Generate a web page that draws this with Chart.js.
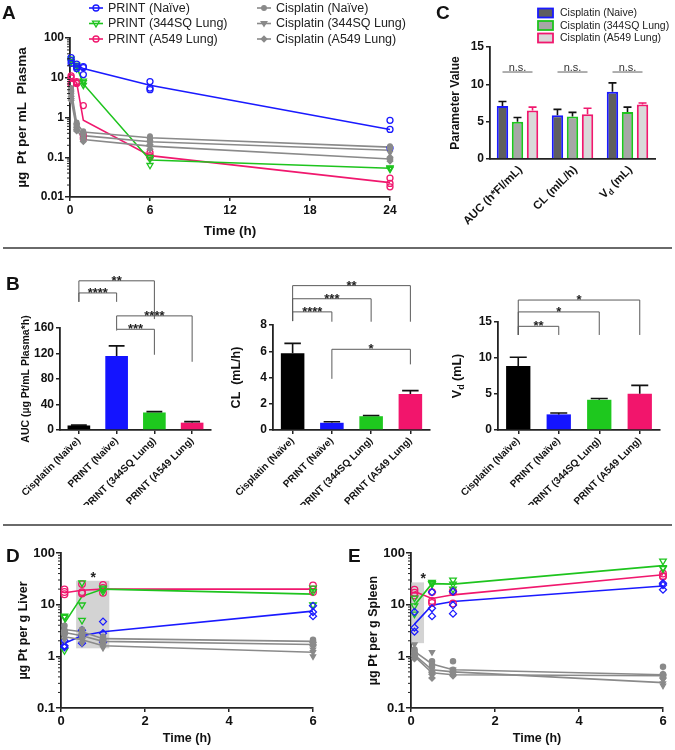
<!DOCTYPE html>
<html><head><meta charset="utf-8">
<script src="https://cdn.jsdelivr.net/npm/chart.js@4.4.1/dist/chart.umd.min.js"></script>
<style>
html,body{margin:0;padding:0;background:#fff;}
#wrap{position:relative;width:675px;height:750px;overflow:hidden;background:#fff;font-family:"Liberation Sans",Arial,sans-serif;}
#wrap canvas{position:absolute;}
.letter{position:absolute;font-weight:bold;font-size:19px;line-height:19px;color:#111;}
.sep{position:absolute;left:3px;width:669px;height:2px;background:#6a6a6a;}
</style></head><body>
<div id="wrap">
  <canvas id="cA" width="420" height="250" style="left:0;top:0;width:420px;height:250px"></canvas>
  <canvas id="cC" width="345" height="250" style="left:330px;top:0;width:345px;height:250px"></canvas>
  <canvas id="cB1" width="225" height="250" style="left:0;top:255px;width:225px;height:250px"></canvas>
  <canvas id="cB2" width="225" height="250" style="left:225px;top:255px;width:225px;height:250px"></canvas>
  <canvas id="cB3" width="225" height="250" style="left:450px;top:255px;width:225px;height:250px"></canvas>
  <canvas id="cD" width="337" height="225" style="left:0;top:525px;width:337px;height:225px"></canvas>
  <canvas id="cE" width="338" height="225" style="left:337px;top:525px;width:338px;height:225px"></canvas>
  <div class="sep" style="top:247px"></div>
  <div class="sep" style="top:524px"></div>
  <div class="letter" style="left:2px;top:3px">A</div>
  <div class="letter" style="left:436px;top:3px">C</div>
  <div class="letter" style="left:6px;top:274px">B</div>
  <div class="letter" style="left:6px;top:546px">D</div>
  <div class="letter" style="left:348px;top:546px">E</div>
</div>
<script>
// ================= DATA =================
// Panel A: plasma concentration (µg Pt / mL) vs time (h)
const timesA = [0.083, 0.5, 1, 6, 24];
const aPrintNaive = [27, 21, 17, 6.5, 0.5];
const aPrint344 = [27, 19, 7, 0.085, 0.053];
const aPrintA549 = [9.5, 7.5, 0.85, 0.11, 0.023];
const aCisNaive = [5, 0.72, 0.43, 0.31, 0.18];
const aCis344 = [4, 0.6, 0.35, 0.245, 0.15];
const aCisA549 = [3, 0.5, 0.28, 0.19, 0.09];
const aPrintNaivePts = [[32,27,23],[22,19,17],[19,12,18],[8,5.5,5],[0.85,0.5,0.17]];
const aPrint344Pts = [[30,26,25],[21,20,17],[8.3,7.6,6.5],[0.1,0.09,0.063],[0.055,0.05,0.053]];
const aPrintA549Pts = [[11.2,10,6.9],[8,7.5,7.2],[2.0,0.36,0.3],[0.13,0.11,0.1],[0.03,0.022,0.018]];
const aCisNaivePts = [[5.5,5,4.5],[0.75,0.7,0.65],[0.45,0.42,0.4],[0.34,0.31,0.28],[0.19,0.18,0.17]];
const aCis344Pts = [[4.4,4,3.6],[0.65,0.6,0.55],[0.38,0.35,0.32],[0.27,0.24,0.22],[0.17,0.15,0.13]];
const aCisA549Pts = [[3.4,3,2.7],[0.55,0.5,0.46],[0.31,0.28,0.25],[0.21,0.19,0.16],[0.1,0.09,0.08]];
const aLegendLabels = ['PRINT (Naïve)','PRINT (344SQ Lung)','PRINT (A549 Lung)','Cisplatin (Naïve)','Cisplatin (344SQ Lung)','Cisplatin (A549 Lung)'];
const aXTicks = [0, 6, 12, 18, 24];
const aYTicks = [0.01, 0.1, 1, 10, 100];

// Panel C: cisplatin PK parameters
const cCategories = ['AUC (h*Fl/mL)', 'CL (mIL/h)', 'Vd (mL)'];
const cSeriesLabels = ['Cisplatin (Naive)', 'Cisplatin (344SQ Lung)', 'Cisplatin (A549 Lung)'];
const cNaive = [7.1, 5.85, 9.0];
const cNaiveErr = [0.6, 0.8, 1.2];
const c344 = [5.0, 5.7, 6.3];
const c344Err = [0.55, 0.55, 0.65];
const cA549 = [6.5, 6.0, 7.3];
const cA549Err = [0.45, 0.8, 0.2];
const cSigLabels = ['n.s.', 'n.s.', 'n.s.'];

// Panel B: PK parameters per formulation
const bCategories = ['Cisplatin (Naïve)', 'PRINT (Naïve)', 'PRINT (344SQ Lung)', 'PRINT (A549 Lung)'];
const bAuc = [7.1, 116, 27.5, 11.5];
const bAucErr = [0.6, 16, 1.3, 1.6];
const bCl = [5.85, 0.55, 1.05, 2.75];
const bClErr = [0.75, 0.08, 0.06, 0.25];
const bVd = [8.9, 2.17, 4.2, 5.05];
const bVdErr = [1.2, 0.2, 0.18, 1.15];
const bAucSig = ['**', '****', '****', '***'];
const bClSig = ['**', '***', '****', '*'];
const bVdSig = ['*', '*', '**'];

// Panels D (liver) and E (spleen): µg Pt / g tissue vs time (h)
const timesDE = [0.083, 0.5, 1, 6];
const dPrintNaive = [1.8, 2.5, 3.0, 7.5];
const dPrint344 = [4.4, 14.5, 20, 16];
const dPrintA549 = [17, 19, 20, 20];
const dCisNaive = [3.3, 3.0, 2.2, 1.95];
const dCis344 = [2.4, 2.1, 1.6, 1.2];
const dCisA549 = [2.9, 2.5, 1.95, 1.7];
const dPrintNaivePts = [[2.0,1.6,1.5],[3.2,2.5,1.8],[4.7,2.8,1.9],[9.5,6.0,7.2]];
const dPrint344Pts = [[6.0,5.7,1.3],[26.5,9.9,5.0],[21,20,18],[21,9.9,18]];
const dPrintA549Pts = [[19.8,17.6,15.9],[25,17.5,16.5],[24,21,17],[23.5,19.8,17.6]];
const dCisNaivePts = [[3.9,3.2,2.9],[3.3,3.0,2.7],[2.4,2.2,2.0],[2.1,1.95,1.85]];
const dCis344Pts = [[2.7,2.4,2.1],[2.4,2.1,1.8],[1.8,1.6,1.45],[1.35,1.2,1.0]];
const dCisA549Pts = [[3.1,2.9,2.7],[2.8,2.5,2.2],[2.1,1.95,1.8],[1.85,1.7,1.6]];

const ePrintNaive = [4.2, 9.8, 11.5, 23];
const ePrint344 = [9.8, 25.5, 25, 57];
const ePrintA549 = [18, 13.2, 15.5, 38];
const eCisNaive = [1.25, 0.71, 0.55, 0.44];
const eCis344 = [1.07, 0.55, 0.5, 0.31];
const eCisA549 = [1.0, 0.48, 0.44, 0.42];
const ePrintNaivePts = [[7.2,3.6,3.0],[17.5,8.5,6.0],[18,9.8,6.7],[26,24,19.5]];
const ePrint344Pts = [[13.5,9.5,6.6],[27,25,25.5],[30,25,20],[70,52,50]];
const ePrintA549Pts = [[19.5,17,15],[17.5,11.8,10.8],[18.5,17.6,10.5],[40,36,35]];
const eCisNaivePts = [[1.35,1.25,1.15],[0.8,0.7,0.62],[0.8,0.55,0.48],[0.63,0.45,0.4]];
const eCis344Pts = [[1.7,1.1,0.95],[1.2,0.5,0.45],[0.55,0.5,0.45],[0.35,0.3,0.27]];
const eCisA549Pts = [[1.05,1.0,0.9],[0.5,0.45,0.38],[0.5,0.44,0.42],[0.45,0.42,0.38]];
const deXTicks = [0, 2, 4, 6];
const deYTicks = [0.1, 1, 10, 100];

// ================= STYLE =================
const FAM = '"Liberation Sans", Arial, Helvetica, sans-serif';
Chart.defaults.font.family = FAM;
Chart.defaults.color = '#111';
const BLUE = '#1a1aff', GREEN = '#1ec41e', PINK = '#f0186e', GREY = '#8a8a8a', AX = '#222';

function drawMarker(ctx, shape, x, y, r, color, filled) {
  ctx.save();
  ctx.beginPath();
  if (shape === 'circle') ctx.arc(x, y, r, 0, Math.PI * 2);
  else if (shape === 'triDown') { ctx.moveTo(x - r, y - r * 0.7); ctx.lineTo(x + r, y - r * 0.7); ctx.lineTo(x, y + r); ctx.closePath(); }
  else { ctx.moveTo(x, y - r); ctx.lineTo(x + r, y); ctx.lineTo(x, y + r); ctx.lineTo(x - r, y); ctx.closePath(); }
  if (filled) { ctx.fillStyle = color; ctx.fill(); }
  ctx.lineWidth = 1.3; ctx.strokeStyle = color; ctx.stroke();
  ctx.restore();
}
function drawRich(ctx, label, x, y, size, align, angle) {
  let parts = [[label, false]];
  if (label.startsWith('Vd')) parts = [['V', false], ['d', true], [label.slice(2), false]];
  ctx.save(); ctx.translate(x, y); ctx.rotate(angle);
  const fontOf = p => 'bold ' + (p[1] ? size * 0.72 : size) + 'px ' + FAM;
  const widths = parts.map(p => { ctx.font = fontOf(p); return ctx.measureText(p[0]).width; });
  const total = widths.reduce((a, b) => a + b, 0);
  let cx = align === 'right' ? -total : (align === 'center' ? -total / 2 : 0);
  ctx.textBaseline = 'middle'; ctx.textAlign = 'left'; ctx.fillStyle = '#111';
  parts.forEach((p, i) => { ctx.font = fontOf(p); ctx.fillText(p[0], cx, p[1] ? size * 0.32 : 0); cx += widths[i]; });
  ctx.restore();
}
const shapeToChart = { circle: ['circle', 0], triDown: ['triangle', 180], diamond: ['rectRot', 0] };
function seriesDatasets(times, means, pts, st) {
  const ps = shapeToChart[st.shape];
  return [
    { data: times.map((t, i) => ({ x: t, y: means[i] })), showLine: true, borderColor: st.color, borderWidth: st.lw || 1.6,
      pointRadius: 0, pointHoverRadius: 0, clip: false, order: 2 },
    { data: pts.flatMap((arr, i) => arr.map(v => ({ x: times[i], y: v }))), showLine: false, pointStyle: ps[0], rotation: ps[1],
      pointRadius: st.r, pointBorderColor: st.color, pointBackgroundColor: st.filled ? st.color : 'rgba(255,255,255,0)',
      pointBorderWidth: 1.3, clip: false, order: 1 }
  ];
}
function linX(min, max, ticks, height, fontSize, title, titleSize, titlePad) {
  return { type: 'linear', min, max, afterFit: s => { s.height = height; },
    afterBuildTicks: s => { s.ticks = ticks.map(v => ({ value: v })); },
    ticks: { font: { size: fontSize, weight: 'bold' }, color: '#111', padding: 2 },
    grid: { display: true, drawOnChartArea: false, drawTicks: true, tickLength: 4, color: AX, lineWidth: 1.5 },
    border: { display: true, color: AX, width: 1.8 },
    title: { display: true, text: title, font: { size: titleSize, weight: 'bold' }, color: '#111', padding: { top: 0, bottom: titlePad } } };
}
function logY(min, max, ticks, width, fontSize, title, titleSize, titlePad) {
  return { type: 'logarithmic', min, max, afterFit: s => { s.width = width; },
    afterBuildTicks: s => { s.ticks = ticks.map(v => ({ value: v })); },
    ticks: { font: { size: fontSize, weight: 'bold' }, color: '#111', padding: 1, callback: v => String(v) },
    grid: { display: true, drawOnChartArea: false, drawTicks: true, tickLength: 5, color: AX, lineWidth: 1.5 },
    border: { display: true, color: AX, width: 1.8 },
    title: { display: true, text: title, font: { size: titleSize, weight: 'bold' }, color: '#111', padding: { top: titlePad, bottom: 0 } } };
}
function linY(min, max, step, width, title, titleSize, titlePad) {
  return { type: 'linear', min, max, afterFit: s => { s.width = width; },
    ticks: { stepSize: step, font: { size: 12, weight: 'bold' }, color: '#111', padding: 2 },
    grid: { display: true, drawOnChartArea: false, drawTicks: true, tickLength: 4, color: AX, lineWidth: 1.5 },
    border: { display: true, color: AX, width: 1.8 },
    title: { display: !!title, text: title || '', font: { size: titleSize || 12, weight: 'bold' }, color: '#111', padding: { top: titlePad || 0, bottom: 0 } } };
}
const minorTicks = { id: 'minorTicks', afterDraw(chart) {
  const s = chart.scales.y; if (s.type !== 'logarithmic') return;
  const ctx = chart.ctx; ctx.save(); ctx.strokeStyle = AX; ctx.lineWidth = 1;
  for (let d = s.min; d < s.max * 0.999; d *= 10) {
    for (let k = 2; k <= 9; k++) { const py = s.getPixelForValue(d * k); ctx.beginPath(); ctx.moveTo(s.right, py); ctx.lineTo(s.right - 3, py); ctx.stroke(); }
  }
  ctx.restore();
} };
const errBars = { id: 'errBars', afterDatasetsDraw(chart) {
  const ctx = chart.ctx;
  chart.data.datasets.forEach((ds, di) => {
    if (!ds.errors) return;
    chart.getDatasetMeta(di).data.forEach((bar, i) => {
      const top = chart.scales.y.getPixelForValue(ds.data[i] + ds.errors[i]);
      const w = bar.width * 0.7;
      ctx.save(); ctx.strokeStyle = Array.isArray(ds.errColor) ? ds.errColor[i] : ds.errColor; ctx.lineWidth = 1.6;
      ctx.beginPath(); ctx.moveTo(bar.x, bar.y); ctx.lineTo(bar.x, top); ctx.moveTo(bar.x - w / 2, top); ctx.lineTo(bar.x + w / 2, top); ctx.stroke();
      ctx.restore();
    });
  });
} };
const sigBrackets = { id: 'sigBrackets', afterDraw(chart, args, opts) {
  if (!opts || !opts.items) return;
  const x = chart.scales.x, y = chart.scales.y, ctx = chart.ctx;
  ctx.save(); ctx.strokeStyle = '#5a5a5a'; ctx.lineWidth = 1; ctx.fillStyle = '#222';
  ctx.font = 'bold 13px ' + FAM; ctx.textAlign = 'center'; ctx.textBaseline = 'alphabetic';
  opts.items.forEach((it, k) => {
    const x1 = x.getPixelForValue(it.from), x2 = x.getPixelForValue(it.to);
    const py = y.getPixelForValue(it.y), pl = y.getPixelForValue(it.yl), pr = y.getPixelForValue(it.yr);
    ctx.beginPath(); ctx.moveTo(x1, pl); ctx.lineTo(x1, py); ctx.lineTo(x2, py); ctx.lineTo(x2, pr); ctx.stroke();
    ctx.fillText(opts.labels[k], (x1 + x2) / 2, py + 4);
  });
  ctx.restore();
} };
const shade = { id: 'shade', beforeDatasetsDraw(chart, args, opts) {
  if (!opts || !opts.box) return;
  const x = chart.scales.x, y = chart.scales.y, ctx = chart.ctx, b = opts.box;
  const x1 = x.getPixelForValue(b[0]), x2 = x.getPixelForValue(b[1]), y1 = y.getPixelForValue(b[3]), y2 = y.getPixelForValue(b[2]);
  ctx.save(); ctx.fillStyle = 'rgba(196,196,196,0.75)'; ctx.fillRect(x1, y1, x2 - x1, y2 - y1);
  ctx.fillStyle = '#222'; ctx.font = 'bold 14px ' + FAM; ctx.textAlign = 'center'; ctx.textBaseline = 'middle';
  ctx.fillText('*', x.getPixelForValue(opts.star[0]), y.getPixelForValue(opts.star[1]) + 3);
  ctx.restore();
} };

const commonOpts = { responsive: false, animation: false, devicePixelRatio: 1, events: [],
  plugins: { legend: { display: false }, tooltip: { enabled: false } } };

// ================= PANEL A =================
const stA = {
  printNaive: { color: BLUE, shape: 'circle', filled: false, r: 3 },
  print344: { color: GREEN, shape: 'triDown', filled: false, r: 3.5 },
  printA549: { color: PINK, shape: 'circle', filled: false, r: 3 },
  cisNaive: { color: GREY, shape: 'circle', filled: true, r: 2.3 },
  cis344: { color: GREY, shape: 'triDown', filled: true, r: 2.8 },
  cisA549: { color: GREY, shape: 'diamond', filled: true, r: 2.8 }
};
const aLegend = { id: 'aLegend', afterDraw(chart) {
  const ctx = chart.ctx, keys = ['printNaive', 'print344', 'printA549', 'cisNaive', 'cis344', 'cisA549'];
  const rowsY = [8, 23.5, 39];
  keys.forEach((k, i) => {
    const st = stA[k], col = i < 3 ? 0 : 1, y = rowsY[i % 3], x0 = col ? 257 : 89;
    ctx.save(); ctx.strokeStyle = st.color; ctx.lineWidth = 1.6;
    ctx.beginPath(); ctx.moveTo(x0, y); ctx.lineTo(x0 + 14, y); ctx.stroke(); ctx.restore();
    drawMarker(ctx, st.shape, x0 + 7, y, st.r, st.color, st.filled);
    ctx.save(); ctx.fillStyle = '#222'; ctx.font = '12.5px ' + FAM; ctx.textBaseline = 'middle'; ctx.textAlign = 'left';
    ctx.fillText(aLegendLabels[i], x0 + 19, y + 0.5); ctx.restore();
  });
} };
new Chart(document.getElementById('cA'), {
  type: 'scatter',
  data: { datasets: [
    ...seriesDatasets(timesA, aCisNaive, aCisNaivePts, stA.cisNaive),
    ...seriesDatasets(timesA, aCis344, aCis344Pts, stA.cis344),
    ...seriesDatasets(timesA, aCisA549, aCisA549Pts, stA.cisA549),
    ...seriesDatasets(timesA, aPrintNaive, aPrintNaivePts, stA.printNaive),
    ...seriesDatasets(timesA, aPrint344, aPrint344Pts, stA.print344),
    ...seriesDatasets(timesA, aPrintA549, aPrintA549Pts, stA.printA549)
  ] },
  options: { ...commonOpts, layout: { padding: { top: 38, right: 30, left: 0, bottom: 0 } },
    scales: { x: linX(0, 24, aXTicks, 53, 12, 'Time (h)', 13.5, 11),
              y: logY(0.01, 100, aYTicks, 70, 12, 'µg  Pt per mL  Plasma', 13.5, 14) } },
  plugins: [minorTicks, aLegend]
});

// ================= PANEL C =================
const cStyles = [
  { fill: '#5f5f5f', border: BLUE, err: '#111' },
  { fill: '#a6a6a6', border: GREEN, err: '#111' },
  { fill: '#d9d9d9', border: PINK, err: PINK }
];
const cLegend = { id: 'cLegend', afterDraw(chart) {
  const ctx = chart.ctx, rowsY = [13, 25.5, 38];
  cSeriesLabels.forEach((lab, i) => {
    const y = rowsY[i];
    ctx.save(); ctx.fillStyle = cStyles[i].fill; ctx.fillRect(208, y - 4.5, 15, 9);
    ctx.strokeStyle = cStyles[i].border; ctx.lineWidth = 1.8; ctx.strokeRect(208, y - 4.5, 15, 9);
    ctx.fillStyle = '#222'; ctx.font = '10.5px ' + FAM; ctx.textBaseline = 'middle'; ctx.textAlign = 'left';
    ctx.fillText(lab, 230, y + 0.5); ctx.restore();
  });
} };
const cExtras = { id: 'cExtras', afterDraw(chart) {
  const ctx = chart.ctx, x = chart.scales.x, y = chart.scales.y;
  cCategories.forEach((lab, i) => {
    const px = x.getPixelForValue(i);
    drawRich(ctx, lab, px + 3, y.bottom + 9, 11.5, 'right', -Math.PI / 4);
    const py = y.getPixelForValue(11.65);
    ctx.save(); ctx.strokeStyle = '#7a7a7a'; ctx.lineWidth = 1.2;
    ctx.beginPath(); ctx.moveTo(px - 15, py); ctx.lineTo(px + 15, py); ctx.stroke();
    ctx.fillStyle = '#333'; ctx.font = '11px ' + FAM; ctx.textAlign = 'center'; ctx.textBaseline = 'alphabetic';
    ctx.fillText(cSigLabels[i], px, py - 1.5); ctx.restore();
  });
} };
const cVals = [cNaive, c344, cA549], cErrs = [cNaiveErr, c344Err, cA549Err];
new Chart(document.getElementById('cC'), {
  type: 'bar',
  data: { labels: cCategories, datasets: cVals.map((v, i) => ({
    label: cSeriesLabels[i], data: v, errors: cErrs[i], errColor: cStyles[i].err,
    backgroundColor: cStyles[i].fill, borderColor: cStyles[i].border, borderWidth: 2,
    categoryPercentage: 0.82, barPercentage: 0.76 })) },
  options: { ...commonOpts, layout: { padding: { top: 47, right: 20, left: 110, bottom: 0 } },
    scales: {
      x: { type: 'category', offset: true, afterFit: s => { s.height = 91; },
           ticks: { display: false }, grid: { display: true, offset: false, drawOnChartArea: false, drawTicks: false, color: AX },
           border: { display: true, color: AX, width: 1.8 } },
      y: linY(0, 15, 5, 50, 'Parameter Value', 12, 8) } },
  plugins: [errBars, cLegend, cExtras]
});

// ================= PANEL B =================
const bColors = ['#000000', '#1414ff', '#1ec81e', '#f2156c'];
function barB(id, values, errs, yScale, padTop, padRight, bracketItems, sigLabels, extraPlugins) {
  return new Chart(document.getElementById(id), {
    type: 'bar',
    data: { labels: bCategories, datasets: [{ data: values, errors: errs, errColor: '#111', backgroundColor: bColors,
      borderWidth: 0, categoryPercentage: 1, barPercentage: 0.6 }] },
    options: { ...commonOpts, layout: { padding: { top: padTop, right: padRight, left: 0, bottom: 0 } },
      plugins: { ...commonOpts.plugins, sigBrackets: { items: bracketItems, labels: sigLabels } },
      scales: {
        x: { type: 'category', offset: true, afterFit: s => { s.height = 75; },
             ticks: { font: { size: 10, weight: 'bold' }, color: '#111', minRotation: 45, maxRotation: 45, autoSkip: false, padding: 1 },
             grid: { display: true, offset: false, drawOnChartArea: false, drawTicks: true, tickLength: 4, color: AX, lineWidth: 1.5 },
             border: { display: true, color: AX, width: 1.8 } },
        y: yScale } },
    plugins: [errBars, sigBrackets].concat(extraPlugins || [])
  });
}
barB('cB1', bAuc, bAucErr, linY(0, 160, 40, 60, 'AUC (µg Pt/mL Plasma*h)', 10.5, 20), 73, 14,
  [{ from: 0, to: 2, y: 234, yl: 201, yr: 174 }, { from: 0, to: 1, y: 215, yl: 201, yr: 201 },
   { from: 1, to: 3, y: 179, yl: 158, yr: 107 }, { from: 1, to: 2, y: 158, yl: 156, yr: 118 }], bAucSig);
barB('cB2', bCl, bClErr, linY(0, 8, 2, 48, 'CL  (mL/h)', 12.5, 4), 70, 20,
  [{ from: 0, to: 3, y: 11.0, yl: 8.3, yr: 8.25 }, { from: 0, to: 2, y: 10.0, yl: 8.3, yr: 8.25 },
   { from: 0, to: 1, y: 9.0, yl: 8.3, yr: 8.25 }, { from: 1, to: 3, y: 6.15, yl: 3.9, yr: 5.0 }], bClSig);
const vdTitle = { id: 'vdTitle', afterDraw(chart) {
  const a = chart.chartArea; drawRich(chart.ctx, 'Vd (mL)', 8, (a.top + a.bottom) / 2, 12.5, 'center', -Math.PI / 2);
} };
barB('cB3', bVd, bVdErr, linY(0, 15, 5, 48, '', 12, 0), 67, 15,
  [{ from: 0, to: 3, y: 18.05, yl: 13.2, yr: 13.2 }, { from: 0, to: 2, y: 16.4, yl: 13.2, yr: 13.2 },
   { from: 0, to: 1, y: 14.4, yl: 13.2, yr: 13.2 }], bVdSig, [vdTitle]);

// ================= PANELS D & E =================
const stDE = {
  printNaive: { color: BLUE, shape: 'diamond', filled: false, r: 3.5 },
  print344: { color: GREEN, shape: 'triDown', filled: false, r: 3.8 },
  printA549: { color: PINK, shape: 'circle', filled: false, r: 3.3 },
  cisNaive: { color: GREY, shape: 'circle', filled: true, r: 2.6 },
  cis344: { color: GREY, shape: 'triDown', filled: true, r: 3 },
  cisA549: { color: GREY, shape: 'diamond', filled: true, r: 3 }
};
function tissueChart(id, series, yTitle, yWidth, titlePad, padRight, shadeOpts) {
  return new Chart(document.getElementById(id), {
    type: 'scatter',
    data: { datasets: [
      ...seriesDatasets(timesDE, series.cisNaive[0], series.cisNaive[1], stDE.cisNaive),
      ...seriesDatasets(timesDE, series.cis344[0], series.cis344[1], stDE.cis344),
      ...seriesDatasets(timesDE, series.cisA549[0], series.cisA549[1], stDE.cisA549),
      ...seriesDatasets(timesDE, series.printNaive[0], series.printNaive[1], stDE.printNaive),
      ...seriesDatasets(timesDE, series.print344[0], series.print344[1], stDE.print344),
      ...seriesDatasets(timesDE, series.printA549[0], series.printA549[1], stDE.printA549)
    ] },
    options: { ...commonOpts, layout: { padding: { top: 28, right: padRight, left: 0, bottom: 0 } },
      plugins: { ...commonOpts.plugins, shade: shadeOpts },
      scales: { x: linX(0, 6, deXTicks, 42, 13, 'Time (h)', 12.5, 4),
                y: logY(0.1, 100, deYTicks, yWidth, 13, yTitle, 12.5, titlePad) } },
    plugins: [shade, minorTicks]
  });
}
tissueChart('cD', {
  printNaive: [dPrintNaive, dPrintNaivePts], print344: [dPrint344, dPrint344Pts], printA549: [dPrintA549, dPrintA549Pts],
  cisNaive: [dCisNaive, dCisNaivePts], cis344: [dCis344, dCis344Pts], cisA549: [dCisA549, dCisA549Pts]
}, 'µg Pt per g Liver', 61, 16, 24, { box: [0.36, 1.15, 1.43, 29], star: [0.77, 38] });
tissueChart('cE', {
  printNaive: [ePrintNaive, ePrintNaivePts], print344: [ePrint344, ePrint344Pts], printA549: [ePrintA549, ePrintA549Pts],
  cisNaive: [eCisNaive, eCisNaivePts], cis344: [eCis344, eCis344Pts], cisA549: [eCisA549, eCisA549Pts]
}, 'µg Pt per g Spleen', 74, 29, 12, { box: [0, 0.31, 1.8, 27], star: [0.29, 36] });
</script>
</body></html>
